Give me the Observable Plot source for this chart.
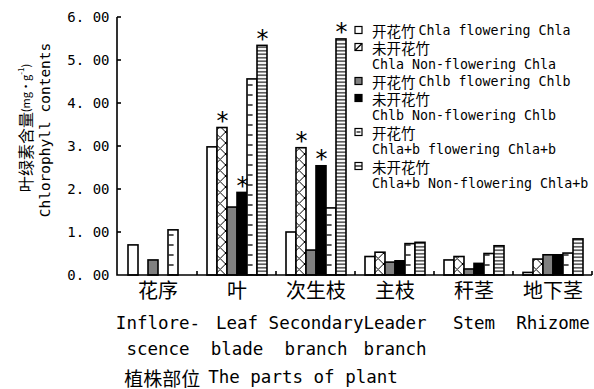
<!DOCTYPE html>
<html><head><meta charset="utf-8">
<script src="https://cdn.jsdelivr.net/npm/d3@7"></script>
<script src="https://cdn.jsdelivr.net/npm/@observablehq/plot@0.6"></script>
<style>body{margin:0;background:#fff}</style>
</head><body>
<svg width="0" height="0" style="position:absolute">
<defs>
<pattern id="pX" patternUnits="userSpaceOnUse" x="123.6" y="0" width="11" height="11">
<rect width="11" height="11" fill="white"/>
<path d="M0,0L11,11M11,0L0,11" stroke="black" stroke-width="1"/>
</pattern>
<pattern id="pR" patternUnits="userSpaceOnUse" x="123.6" y="0" width="11" height="10">
<rect width="11" height="10" fill="white"/>
<path d="M0,5H5" stroke="black" stroke-width="1.3"/>
</pattern>
<pattern id="pH" patternUnits="userSpaceOnUse" x="123.6" y="0" width="11" height="3.5">
<rect width="11" height="3.5" fill="white"/>
<path d="M0,1.75H11" stroke="black" stroke-width="1.1"/>
</pattern>
</defs></svg>
<div id="chart"></div>
<script>
const parts = ["花序", "叶", "次生枝", "主枝", "秆茎", "地下茎"];
const partsEn = ["Inflore-\nscence", "Leaf\nblade", "Secondary\nbranch", "Leader\nbranch", "Stem", "Rhizome"];
const seriesKeys = ["flChla", "nfChla", "flChlb", "nfChlb", "flChlab", "nfChlab"];
const seriesZh = ["开花竹", "未开花竹", "开花竹", "未开花竹", "开花竹", "未开花竹"];
const seriesEn = ["Chla flowering Chla", "Chla Non-flowering Chla", "Chlb flowering Chlb", "Chlb Non-flowering Chlb", "Chla+b flowering Chla+b", "Chla+b Non-flowering Chla+b"];
const flChla  = [0.70, 2.98, 1.00, 0.43, 0.35, 0.06];
const nfChla  = [null, 3.43, 2.96, 0.53, 0.43, 0.37];
const flChlb  = [0.35, 1.58, 0.58, 0.30, 0.14, 0.47];
const nfChlb  = [null, 1.92, 2.54, 0.33, 0.27, 0.47];
const flChlab = [1.05, 4.56, 1.56, 0.73, 0.50, 0.51];
const nfChlab = [null, 5.34, 5.49, 0.76, 0.68, 0.84];
const starred = [["叶", "nfChla"], ["叶", "nfChlb"], ["叶", "nfChlab"], ["次生枝", "nfChla"], ["次生枝", "nfChlb"], ["次生枝", "nfChlab"]];
const yTicks = [0, 1, 2, 3, 4, 5, 6];
const yTitleZh = "叶绿素含量";
const yTitleEn = "Chlorophyll contents";
const xTitleZh = "植株部位";
const xTitleEn = "The parts of plant";

const values = {flChla, nfChla, flChlb, nfChlb, flChlab, nfChlab};
const fills = {flChla: "white", nfChla: "url(#pX)", flChlb: "#808080", nfChlb: "black", flChlab: "url(#pR)", nfChlab: "url(#pH)"};
const rows = parts.flatMap((p, i) => seriesKeys.map(s => ({part: p, series: s, value: values[s][i]}))).filter(d => d.value != null);
const starRows = starred.map(([p, s]) => ({part: p, series: s, value: values[s][parts.indexOf(p)]}));
const enRows = parts.map((p, i) => ({part: p, en: partsEn[i]}));

const CJK = "'Noto Sans CJK SC'";
const MONO = "'DejaVu Sans Mono'";
const W = 594, H = 389, ML = 117, MR = 2, MT = 17, MB = 114;

const chart = Plot.plot({
  width: W, height: H,
  marginLeft: ML, marginRight: MR, marginTop: MT, marginBottom: MB,
  style: {background: "white", fontFamily: `${MONO}, ${CJK}, monospace`, color: "black"},
  fx: {domain: parts, padding: 0, axis: null},
  x: {domain: seriesKeys, paddingInner: 0, paddingOuter: 0.6, axis: null},
  y: {domain: [0, 6], axis: null},
  color: {type: "identity"},
  marks: [
    Plot.barY(rows, {fx: "part", x: "series", y: "value", fill: d => fills[d.series], stroke: "black", strokeWidth: 1.6, inset: 0}),
    Plot.text(starRows, {fx: "part", x: "series", y: "value", text: () => "*", fontSize: 24, lineAnchor: "bottom", dy: 1, fontFamily: MONO}),
    Plot.text(parts, {fx: d => d, text: d => d, frameAnchor: "bottom", dy: 22, fontSize: 20, fontFamily: CJK}),
    Plot.text(enRows, {fx: "part", text: "en", frameAnchor: "bottom", lineAnchor: "top", dy: 35, fontSize: 17.5, lineHeight: 1.5, fontFamily: MONO}),
    Plot.axisY(yTicks, {tickSize: 0, tickPadding: 9, tickFormat: d => d.toFixed(2).replace(".", ". "), fontSize: 14, label: null, fontFamily: MONO})
  ]
});
document.getElementById("chart").appendChild(chart);

// axes lines, boundary ticks, legend and titles, positioned through the chart's own scales
(function decor() {
  const ys = chart.scale("y"), fxs = chart.scale("fx");
  const y = v => ys.apply(v), fx = p => fxs.apply(p);
  const g = d3.select(chart).append("g");
  const left = ML, right = W - MR;
  const y0 = y(0), yTop = y(yTicks[yTicks.length - 1]);
  const line = d => g.append("path").attr("d", d).attr("fill", "none").attr("stroke", "black").attr("stroke-width", 1.6);
  line(`M${left},${yTop}V${y0}H${right}`);
  for (const t of yTicks.slice(1)) line(`M${left},${y(t)}h4`);
  for (const p of parts.slice(1)) line(`M${fx(p)},${y0}v-4`);
  line(`M${right},${y0}v-4`);

  // legend
  const lx = 355, tx = 372;
  let row = 0;
  const rowY = r => 30 + 17 * r;
  seriesKeys.forEach((s, i) => {
    const cy = rowY(row);
    const m = g.append("g").attr("stroke", "black").attr("stroke-width", 1.2);
    m.append("rect").attr("x", lx).attr("y", cy - 3.5).attr("width", 7).attr("height", 7)
      .attr("fill", s === "flChlb" ? "#808080" : s === "nfChlb" ? "black" : "white");
    if (s === "nfChla") m.append("path").attr("d", `M${lx},${cy + 3.5}L${lx + 7},${cy - 3.5}`);
    if (s === "flChlab") m.append("path").attr("d", `M${lx + 1.5},${cy}H${lx + 5.5}`);
    if (s === "nfChlab") m.append("path").attr("d", `M${lx},${cy}H${lx + 7}`);
    const inline = (i === 0 || i === 2);
    const t = g.append("text").attr("x", tx).attr("y", cy).attr("text-anchor", "start")
      .attr("dominant-baseline", "central").attr("fill", "black");
    t.append("tspan").attr("font-family", CJK).attr("font-size", 14.5).text(seriesZh[i]);
    if (inline) {
      t.append("tspan").attr("font-family", MONO).attr("font-size", 13.3).attr("dx", 3).text(seriesEn[i]);
      row += 1;
    } else {
      g.append("text").attr("x", tx).attr("y", rowY(row + 1)).attr("text-anchor", "start").attr("dominant-baseline", "central")
        .attr("font-family", MONO).attr("font-size", 13.3).attr("fill", "black").text(seriesEn[i]);
      row += 2;
    }
  });

  // y titles
  const t1 = g.append("text").attr("transform", "translate(25,128) rotate(-90)").attr("text-anchor", "middle")
    .attr("dominant-baseline", "central").attr("fill", "black").attr("font-family", CJK);
  t1.append("tspan").attr("font-size", 16).text(yTitleZh);
  t1.append("tspan").attr("font-size", 11).text("(mg•g");
  t1.append("tspan").attr("font-size", 8).attr("dy", -5).text("-1");
  t1.append("tspan").attr("font-size", 11).attr("dy", 5).text(")");
  g.append("text").attr("transform", "translate(45,130) rotate(-90)").attr("text-anchor", "middle")
    .attr("dominant-baseline", "central").attr("fill", "black").attr("font-family", MONO).attr("font-size", 14.5).text(yTitleEn);

  // x title
  const t2 = g.append("text").attr("x", 261).attr("y", 377).attr("text-anchor", "middle")
    .attr("dominant-baseline", "central").attr("fill", "black");
  t2.append("tspan").attr("font-family", CJK).attr("font-size", 19).text(xTitleZh);
  t2.append("tspan").attr("font-family", MONO).attr("font-size", 17.5).attr("dx", 8).text(xTitleEn);
})();
</script>
</body></html>
